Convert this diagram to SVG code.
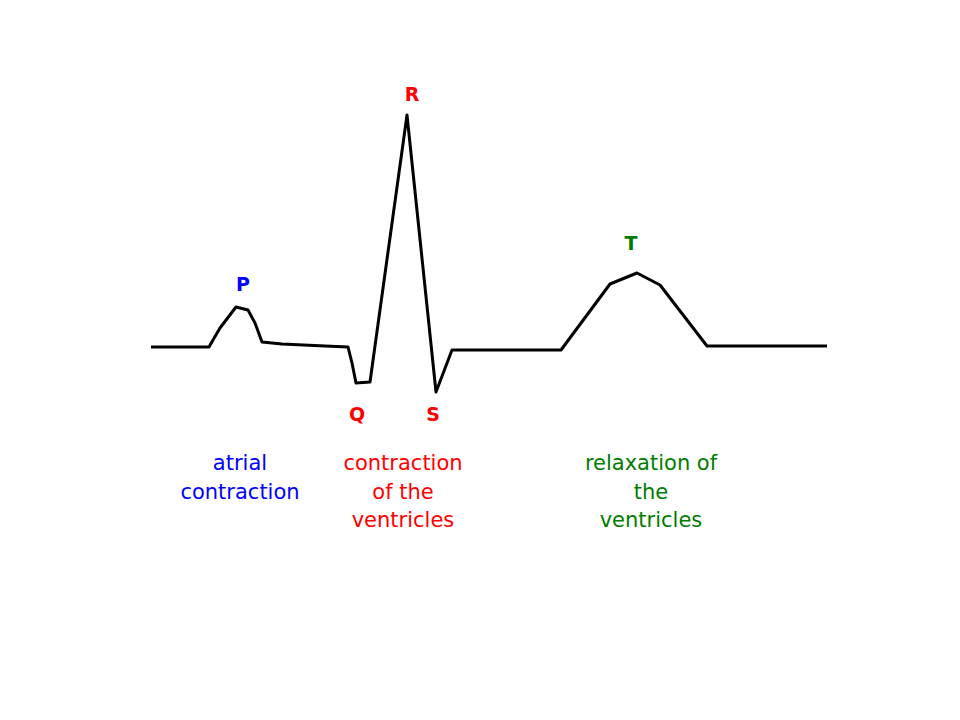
<svg xmlns="http://www.w3.org/2000/svg" width="960" height="720" viewBox="0 0 960 720">
<style>
.l{font-family:"Comic Sans MS","DejaVu Sans",sans-serif;font-weight:bold;font-size:19px;text-anchor:middle}
.t{font-family:"Comic Sans MS","DejaVu Sans",sans-serif;font-size:21px;text-anchor:middle}
.b{fill:#0000ff}.r{fill:#ff0000}.g{fill:#007d00}
</style>
<rect width="960" height="720" fill="#fff"/>
<g id="connectors">
<polyline fill="none" stroke="#000" stroke-width="3" stroke-linejoin="round" points="151,347 209,347 213,340 220,328 236,307 248,310 255,323 262,342 282,344 325,346 348,347 352,363 356,383 370,382 407,115 436,392 452,350 561,350 610,284 637,273 660,285 707,346 827,346"/>
</g>
<g id="P"><text class="l b" x="243" y="291">P</text></g>
<g id="R"><text class="l r" x="412" y="101">R</text></g>
<g id="Q"><text class="l r" x="357" y="421">Q</text></g>
<g id="S"><text class="l r" x="433" y="421">S</text></g>
<g id="T"><text class="l g" x="631" y="250">T</text></g>
<g id="atrial"><text class="t b" x="240" y="470">atrial</text><text class="t b" x="240" y="499">contraction</text></g>
<g id="contraction"><text class="t r" x="403" y="470">contraction</text><text class="t r" x="403" y="499">of the</text><text class="t r" x="403" y="527">ventricles</text></g>
<g id="relaxation"><text class="t g" x="651" y="470">relaxation of</text><text class="t g" x="651" y="499">the</text><text class="t g" x="651" y="527">ventricles</text></g>
</svg>
